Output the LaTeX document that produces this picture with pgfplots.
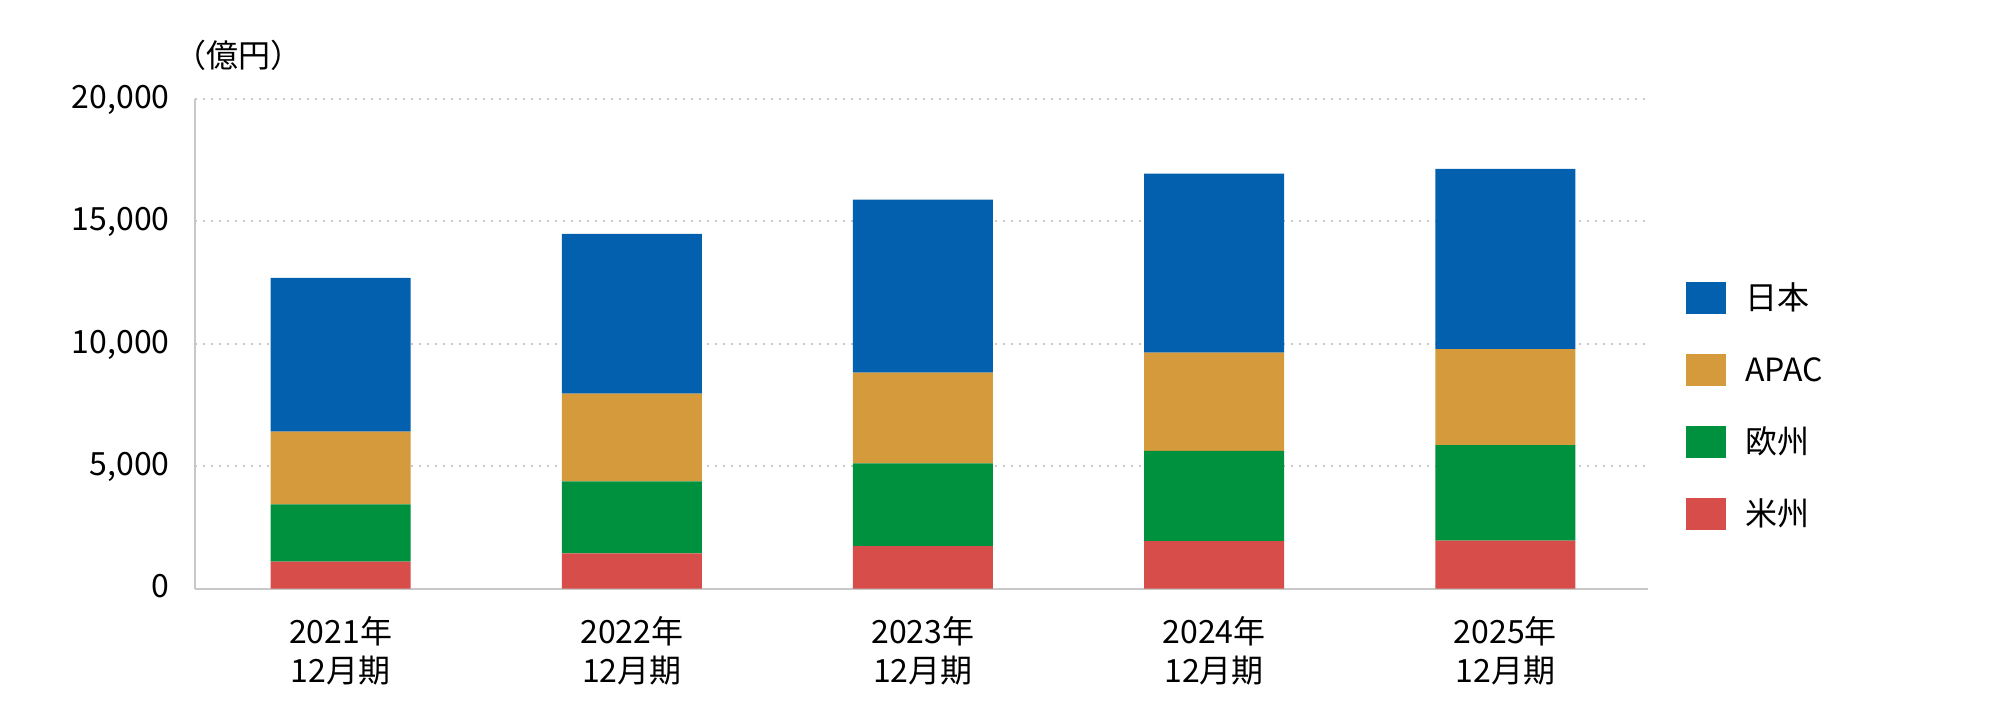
\documentclass[border=0pt]{standalone}
\usepackage{fontspec}
\setmainfont{Noto Sans CJK JP}
\usepackage{pgfplots}
\usepackage{pgfplotstable}
\pgfplotsset{compat=1.18}
\definecolor{cJP}{RGB}{3,96,174}
\definecolor{cAP}{RGB}{212,154,60}
\definecolor{cEU}{RGB}{0,145,63}
\definecolor{cUS}{RGB}{215,77,74}
\definecolor{axgray}{RGB}{200,200,200}
\pgfplotstableread{
x US EU AP JP
0 1100 2340 2965 6285
1 1440 2935 3590 6525
2 1735 3380 3705 7070
3 1940 3680 4020 7310
4 1955 3900 3930 7355
}\data
\begin{document}
\begin{tikzpicture}[font=\fontsize{16}{19.5}\selectfont]
\begin{axis}[
  scale only axis, width=726.5pt, height=244.75pt,
  ybar stacked, bar width=70pt,
  xmin=-0.5, xmax=4.49, ymin=0, ymax=20000,
  axis x line*=bottom, axis y line*=left,
  axis line style={draw=axgray, line width=1pt, -},
  major tick length=0pt,
  xtick={0,1,2,3,4},
  xticklabels={{2021年\\12月期},{2022年\\12月期},{2023年\\12月期},{2024年\\12月期},{2025年\\12月期}},
  xticklabel style={align=center, anchor=north, inner sep=0pt, yshift=-13.75pt},
  ytick={0,5000,10000,15000,20000},
  scaled y ticks=false,
  yticklabel style={/pgf/number format/1000 sep={,}, /pgf/number format/assume math mode=true, anchor=base east, inner sep=0pt, xshift=-12.5pt, yshift=-4.65pt},
  ymajorgrids,
  grid style={draw=axgray, line width=1pt, dash pattern=on 1.2pt off 2.8pt},
  legend style={at={(1.0262,0.6262)}, anchor=north west, draw=none, fill=none, inner sep=0pt, outer sep=0pt, row sep=20pt, column sep=0pt, nodes={inner sep=0pt, text height=11.8pt, text depth=0pt}, cells={anchor=west}},
  legend image code/.code={\fill[#1,draw=none] (0pt,-8pt) rectangle (20pt,8pt); \path (29.5pt,0pt);},
  reverse legend,
]
\addplot[fill=cUS, draw=none] table[x=x, y=US] {\data};
\addplot[fill=cEU, draw=none] table[x=x, y=EU] {\data};
\addplot[fill=cAP, draw=none] table[x=x, y=AP] {\data};
\addplot[fill=cJP, draw=none] table[x=x, y=JP] {\data};
\legend{米州,欧州,APAC,日本}
\coordinate (sw) at (rel axis cs:0,0);
\coordinate (nw) at (rel axis cs:0,1);
\end{axis}
\node[anchor=base west, inner sep=0pt, xshift=-10.3pt, yshift=15.5pt] at (nw) {（億円）};
\pgfresetboundingbox
\path (sw) ++(-97.5pt,-66.75pt) rectangle ++(1000pt,361pt);
\end{tikzpicture}
\end{document}
